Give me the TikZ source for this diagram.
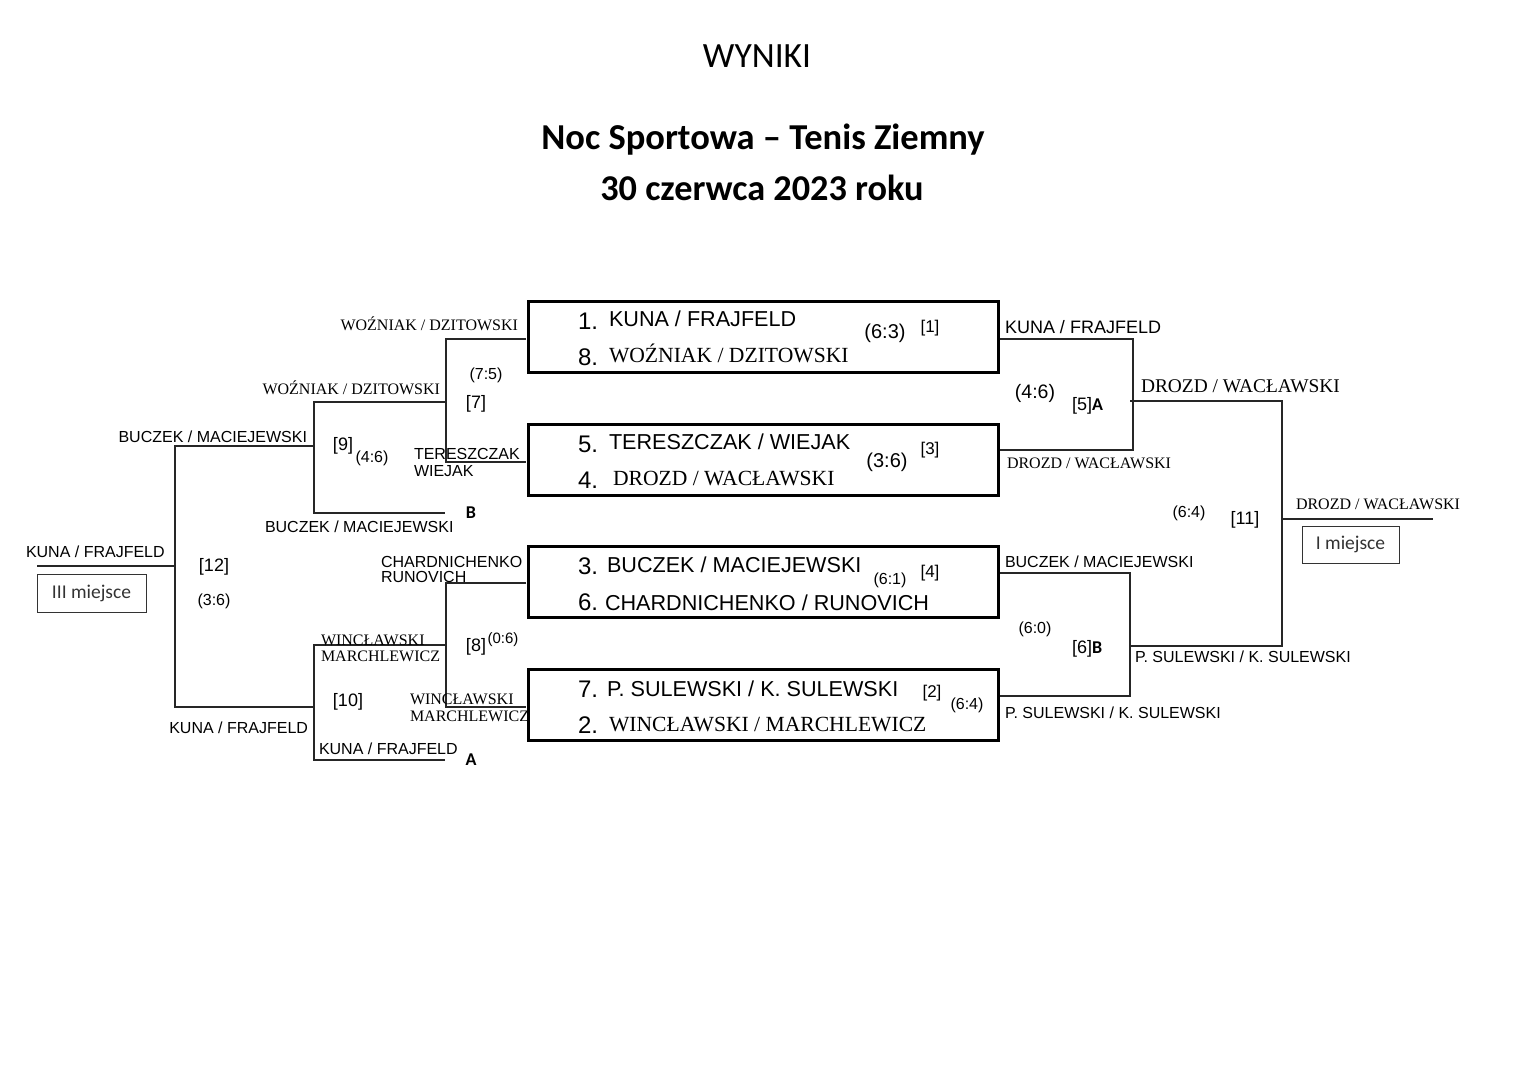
\documentclass[tikz,border=0pt]{standalone}
\usepackage{fontspec}
\setmainfont{Liberation Serif}
\setsansfont{Liberation Sans}
\newfontfamily\calib{Carlito}
\begin{document}
\begin{tikzpicture}[x=1pt,y=-1pt,
  every node/.style={inner sep=0pt, outer sep=0pt},
  ln/.style={line width=1.4pt, black!85},
  bx/.style={draw, line width=2.6pt, minimum width=470pt, minimum height=71pt},
  placebox/.style={draw, line width=1pt, black!80},
  lab/.style={font=\sffamily\fontsize{16}{16}\selectfont},
  labbig/.style={font=\sffamily\fontsize{18}{18}\selectfont},
  labser/.style={font=\rmfamily\fontsize{16}{16}\selectfont},
  labserbig/.style={font=\rmfamily\fontsize{19.4}{19.4}\selectfont},
  teamname/.style={font=\sffamily\fontsize{21.6}{21.6}\selectfont, anchor=base west},
  teamser/.style={font=\rmfamily\fontsize{21.6}{21.6}\selectfont, anchor=base west},
  seednum/.style={font=\sffamily\fontsize{24}{24}\selectfont, anchor=base west},
  sc/.style={font=\sffamily\fontsize{16}{16}\selectfont},
  scbig/.style={font=\sffamily\fontsize{20}{20}\selectfont},
  br/.style={font=\sffamily\fontsize{18}{18}\selectfont},
  brs/.style={font=\sffamily\fontsize{17}{17}\selectfont},
  tagb/.style={font=\calib\bfseries\fontsize{18}{18}\selectfont, anchor=base},
  plc/.style={font=\calib\fontsize{19.5}{19.5}\selectfont}
]
\useasboundingbox (0,0) rectangle (1527,1080);

% titles
\node[anchor=base, font=\calib\fontsize{35.5}{35.5}\selectfont] (t0) at (757,67) {WYNIKI};
\node[anchor=base, font=\calib\bfseries\fontsize{36.5}{36.5}\selectfont] (t1) at (763,149) {Noc Sportowa – Tenis Ziemny};
\node[anchor=base, font=\calib\bfseries\fontsize{36.3}{36.3}\selectfont] (t2) at (762,200) {30 czerwca 2023 roku};

% match boxes
\node[bx] (m1) at (763.5,337) {};
\node[bx] (m2) at (763.5,460) {};
\node[bx] (m3) at (763.5,582) {};
\node[bx] (m4) at (763.5,705) {};

% box 1
\node[seednum] (n1) at (578,329) {1.};
\node[teamname] (p1) at (609,326) {KUNA / FRAJFELD};
\node[seednum] (n8) at (578,365) {8.};
\node[teamser] (p8) at (609,362) {WOŹNIAK / DZITOWSKI};
\node[scbig] (s1) at (885,333) {(6:3)};
\node[brs] (r1) at (930,328) {[1]};
% box 2
\node[seednum] (n5) at (578,452) {5.};
\node[teamname] (p5) at (609,449) {TERESZCZAK / WIEJAK};
\node[seednum] (n4) at (578,488) {4.};
\node[teamser] (p4) at (613,485) {DROZD / WACŁAWSKI};
\node[scbig] (s3) at (887,462) {(3:6)};
\node[brs] (r3) at (930,450) {[3]};
% box 3
\node[seednum] (n3) at (578,574) {3.};
\node[teamname] (p3) at (607,572) {BUCZEK / MACIEJEWSKI};
\node[seednum] (n6) at (578,610) {6.};
\node[teamname] (p6) at (605,610) {CHARDNICHENKO / RUNOVICH};
\node[sc] (s4) at (890,580) {(6:1)};
\node[brs] (r4) at (930,573) {[4]};
% box 4
\node[seednum] (n7) at (578,697) {7.};
\node[teamname] (p7) at (607,696) {P. SULEWSKI / K. SULEWSKI};
\node[seednum] (n2) at (578,733) {2.};
\node[teamser] (p2) at (609,731) {WINCŁAWSKI / MARCHLEWICZ};
\node[brs] (r2) at (932,693) {[2]};
\node[sc] (s2) at (967,705) {(6:4)};

% ---------- left bracket coordinates ----------
\coordinate (a1) at (526,339);
\coordinate (a2) at (446,339);
\coordinate (a3) at (446,462);
\coordinate (a4) at (526,462);
\coordinate (a5) at (446,402);
\coordinate (b1) at (314,402);
\coordinate (b2) at (314,513);
\coordinate (b3) at (445,513);
\coordinate (b4) at (314,446);
\coordinate (c1) at (175,446);
\coordinate (c2) at (175,707);
\coordinate (c3) at (314,707);
\coordinate (c4) at (175,566);
\coordinate (c5) at (37,566);
\coordinate (d1) at (526,583);
\coordinate (d2) at (446,583);
\coordinate (d3) at (446,707);
\coordinate (d4) at (526,707);
\coordinate (d5) at (446,645);
\coordinate (e1) at (314,645);
\coordinate (e2) at (314,760);
\coordinate (e3) at (445,760);

\draw[ln] (a1) -- (a2) -- (a3) -- (a4);
\draw[ln] (a5) -- (b1) -- (b2) -- (b3);
\draw[ln] (b4) -- (c1) -- (c2) -- (c3);
\draw[ln] (c4) -- (c5);
\draw[ln] (d1) -- (d2) -- (d3) -- (d4);
\draw[ln] (d5) -- (e1) -- (e2) -- (e3);

% ---------- right bracket coordinates ----------
\coordinate (f1) at (1000,339);
\coordinate (f2) at (1133,339);
\coordinate (f3) at (1133,450);
\coordinate (f4) at (1000,450);
\coordinate (f5) at (1130,401);
\coordinate (g1) at (1282,401);
\coordinate (g2) at (1282,646);
\coordinate (g3) at (1130,646);
\coordinate (h1) at (1000,573);
\coordinate (h2) at (1130,573);
\coordinate (h3) at (1130,696);
\coordinate (h4) at (1000,696);
\coordinate (g4) at (1282,519);
\coordinate (g5) at (1433,519);

\draw[ln] (f1) -- (f2) -- (f3) -- (f4);
\draw[ln] (f5) -- (g1) -- (g2) -- (g3);
\draw[ln] (h1) -- (h2) -- (h3) -- (h4);
\draw[ln] (g4) -- (g5);

% ---------- left labels ----------
\node[labser, anchor=base east] (lw1) at (518,330) {WOŹNIAK / DZITOWSKI};
\node[labser, anchor=base east] (lw2) at (440,394) {WOŹNIAK / DZITOWSKI};
\node[lab, anchor=base east] (lb1) at (307,442) {BUCZEK / MACIEJEWSKI};
\node[lab, anchor=base west] (lt1) at (414,459) {TERESZCZAK};
\node[lab, anchor=base west] (lt2) at (414,476) {WIEJAK};
\node[tagb] (tB) at (471,518) {B};
\node[lab, anchor=base west] (lb2) at (265,532) {BUCZEK / MACIEJEWSKI};
\node[br] (r9) at (343,446) {[9]};
\node[sc] (s9) at (372,458) {(4:6)};
\node[sc] (s7) at (486,375) {(7:5)};
\node[br] (r7) at (476,404) {[7]};
\node[lab, anchor=base west] (lk1) at (26,557) {KUNA / FRAJFELD};
\node[placebox, minimum width=109pt, minimum height=38pt, plc] (pl3) at (91.5,593) {III miejsce};
\node[br] (r12) at (214,567) {[12]};
\node[sc] (s12) at (214,601) {(3:6)};
\node[lab, anchor=base east] (lk2) at (308,733) {KUNA / FRAJFELD};
\node[labser, anchor=base west] (lw3) at (321,645) {WINCŁAWSKI};
\node[labser, anchor=base west] (lw4) at (321,661) {MARCHLEWICZ};
\node[br] (r10) at (348,702) {[10]};
\node[lab, anchor=base west] (lk3) at (319,754) {KUNA / FRAJFELD};
\node[tagb] (tA) at (471,765) {A};
\node[lab, anchor=base west] (lc1) at (381,567) {CHARDNICHENKO};
\node[lab, anchor=base west] (lc2) at (381,582) {RUNOVICH};
\node[br] (r8) at (476,647) {[8]};
\node[font=\sffamily\fontsize{15}{15}\selectfont] (s8) at (503,640) {(0:6)};
\node[labser, anchor=base west] (lw5) at (410,704) {WINCŁAWSKI};
\node[labser, anchor=base west] (lw6) at (410,721) {MARCHLEWICZ};

% ---------- right labels ----------
\node[labbig, anchor=base west] (rk1) at (1005,333) {KUNA / FRAJFELD};
\node[labserbig, anchor=base west] (rd1) at (1141,392) {DROZD / WACŁAWSKI};
\node[labser, anchor=base west] (rd2) at (1007,468) {DROZD / WACŁAWSKI};
\node[labser, anchor=base west] (rd3) at (1296,509) {DROZD / WACŁAWSKI};
\node[font=\sffamily\fontsize{19.5}{19.5}\selectfont] (s5) at (1035,393) {(4:6)};
\node[br, anchor=base west] (r5) at (1072,410) {[5]{\calib\bfseries A}};
\node[sc] (s11) at (1189,513) {(6:4)};
\node[br] (r11) at (1245,520) {[11]};
\node[placebox, minimum width=97pt, minimum height=37pt, plc] (pl1) at (1350.5,544.5) {I miejsce};
\node[lab, anchor=base west] (rb1) at (1005,567) {BUCZEK / MACIEJEWSKI};
\node[lab, anchor=base west] (rp1) at (1005,718) {P. SULEWSKI / K. SULEWSKI};
\node[lab, anchor=base west] (rp2) at (1135,662) {P. SULEWSKI / K. SULEWSKI};
\node[sc] (s6) at (1035,629) {(6:0)};
\node[br, anchor=base west] (r6) at (1072,653) {[6]{\calib\bfseries B}};
\end{tikzpicture}
\end{document}
